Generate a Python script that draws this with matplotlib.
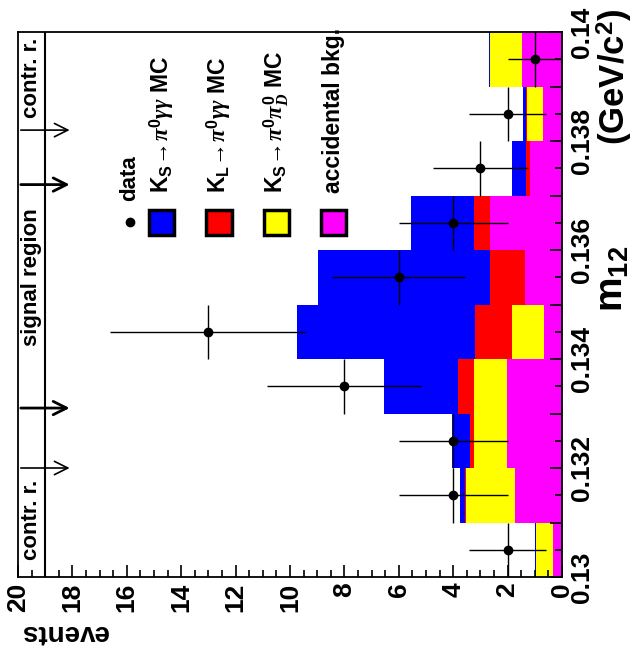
import numpy as np
import matplotlib
matplotlib.use('Agg')
import matplotlib.pyplot as plt
from matplotlib.patches import Rectangle
from matplotlib.ticker import MultipleLocator, FuncFormatter

plt.rcParams['font.family'] = ['Liberation Sans', 'DejaVu Sans']
plt.rcParams['font.weight'] = 'bold'
plt.rcParams['mathtext.fontset'] = 'custom'
plt.rcParams['mathtext.rm'] = 'Liberation Sans'
plt.rcParams['mathtext.bf'] = 'Liberation Sans:bold'
plt.rcParams['mathtext.it'] = 'Liberation Serif:italic'

# m12 bins (lower edges, GeV/c^2), width 0.001
bin_lo = [0.130, 0.131, 0.132, 0.133, 0.134, 0.135, 0.136, 0.137, 0.138, 0.139]
bin_w = 0.001
# stacked MC contributions (events), bottom to top
acc_bkg = [0.33, 1.72, 2.02, 2.02, 0.65, 1.35, 2.66, 1.17, 0.71, 1.47]
ks_pipi = [0.61, 1.81, 1.23, 1.23, 1.19, 0.00, 0.00, 0.00, 0.58, 1.19]
kl_gg = [0.00, 0.03, 0.15, 0.57, 1.35, 1.29, 0.56, 0.14, 0.05, 0.00]
ks_gg = [0.07, 0.18, 0.64, 2.71, 6.55, 6.34, 2.33, 0.53, 0.09, 0.04]
# data
data_n = [2, 4, 4, 8, 13, 6, 4, 3, 2, 1]

# region boundaries
contr_edges = [0.132, 0.1382]
signal_edges = [0.1331, 0.1372]

colors = ['#ff00ff', '#ffff00', '#ff0000', '#0000ff']
labels = [r'$\mathbf{K_S}\!\rightarrow\!\pi^0\gamma\gamma$ MC',
          r'$\mathbf{K_L}\!\rightarrow\!\pi^0\gamma\gamma$ MC',
          r'$\mathbf{K_S}\!\rightarrow\!\pi^0\pi^0_D$ MC',
          'accidental bkg.']

fig = plt.figure(figsize=(6.35, 6.6), dpi=100)
ax = fig.add_axes([18/635, 83/660, 544/635, 545/660])

centers = np.array(bin_lo) + bin_w/2
left = np.zeros(len(bin_lo))
for vals, c in zip([acc_bkg, ks_pipi, kl_gg, ks_gg], colors):
    ax.barh(bin_lo, vals, height=bin_w, left=left, align='edge', color=c, lw=0)
    left = left + np.array(vals)

err = np.sqrt(data_n)
ax.errorbar(data_n, centers, xerr=err, yerr=bin_w/2, fmt='o', color='k', ms=6,
            elinewidth=1, capsize=0)

ax.set_xlim(20, 0)
ax.set_ylim(0.130, 0.140)

# region strip with arrows
ax.plot([19, 19], [0.130, 0.140], color='k', lw=1.5)
for y in contr_edges:
    ax.annotate('', xy=(18.0, y), xytext=(20, y),
                arrowprops=dict(arrowstyle='->', lw=1.2, color='k', mutation_scale=24))
for y in signal_edges:
    ax.annotate('', xy=(18.0, y), xytext=(20, y),
                arrowprops=dict(arrowstyle='->', lw=2, color='k', mutation_scale=24))
ax.text(19.5, 0.13915, 'contr. r.', rotation=90, ha='center', va='center', fontsize=16)
ax.text(19.5, 0.1355, 'signal region', rotation=90, ha='center', va='center', fontsize=16)
ax.text(19.5, 0.13105, 'contr. r.', rotation=90, ha='center', va='center', fontsize=16)

# legend
leg_y = 0.13651
ax.plot(15.9, leg_y, 'ko', ms=6)
ax.text(15.9, 0.1369, 'data', rotation=90, ha='center', va='bottom', fontsize=16)
for i, (lab, c) in enumerate(zip(labels, colors[::-1])):
    xc = 14.71 - i*2.1
    ax.add_patch(Rectangle((xc - 0.46, leg_y - 0.00023), 0.92, 0.00046,
                           facecolor=c, edgecolor='k', lw=2.5, zorder=5))
    ax.text(xc, 0.13705, lab, rotation=90, ha='center', va='bottom', fontsize=16.5)

# axes styling
ax.yaxis.tick_right()
ax.xaxis.set_major_locator(MultipleLocator(2))
ax.xaxis.set_minor_locator(MultipleLocator(0.5))
ax.yaxis.set_major_locator(MultipleLocator(0.001))
ax.yaxis.set_minor_locator(MultipleLocator(0.0005))
ax.yaxis.set_major_formatter(FuncFormatter(
    lambda v, p: ('%g' % round(v, 3)) if round(v*1000) % 2 == 0 else ''))
ax.tick_params(which='both', direction='in', labelsize=19, top=False, left=False)
ax.tick_params(which='major', length=9, width=1.2)
ax.tick_params(which='minor', length=5, width=1.2)
ax.tick_params(axis='x', labelrotation=90, pad=4)
ax.tick_params(axis='y', labelrotation=90, pad=6)
for lbl in ax.get_yticklabels():
    lbl.set_va('center')
for s in ax.spines.values():
    s.set_linewidth(1.3)

fig.text(20/635, 1 - 632/660, 'events', rotation=180, ha='left', va='center',
         fontsize=20, fontweight='bold')
fig.text(613/635, 1 - 312/660, r'$\mathbf{m_{12}}$', rotation=90,
         ha='center', va='bottom', fontsize=28, fontweight='bold')
fig.text(615/635, 1 - 8/660, r'(GeV/c$^{\mathbf{2}}$)', rotation=90,
         ha='center', va='top', fontsize=25, fontweight='bold')

fig.savefig('out.png', dpi=100)
